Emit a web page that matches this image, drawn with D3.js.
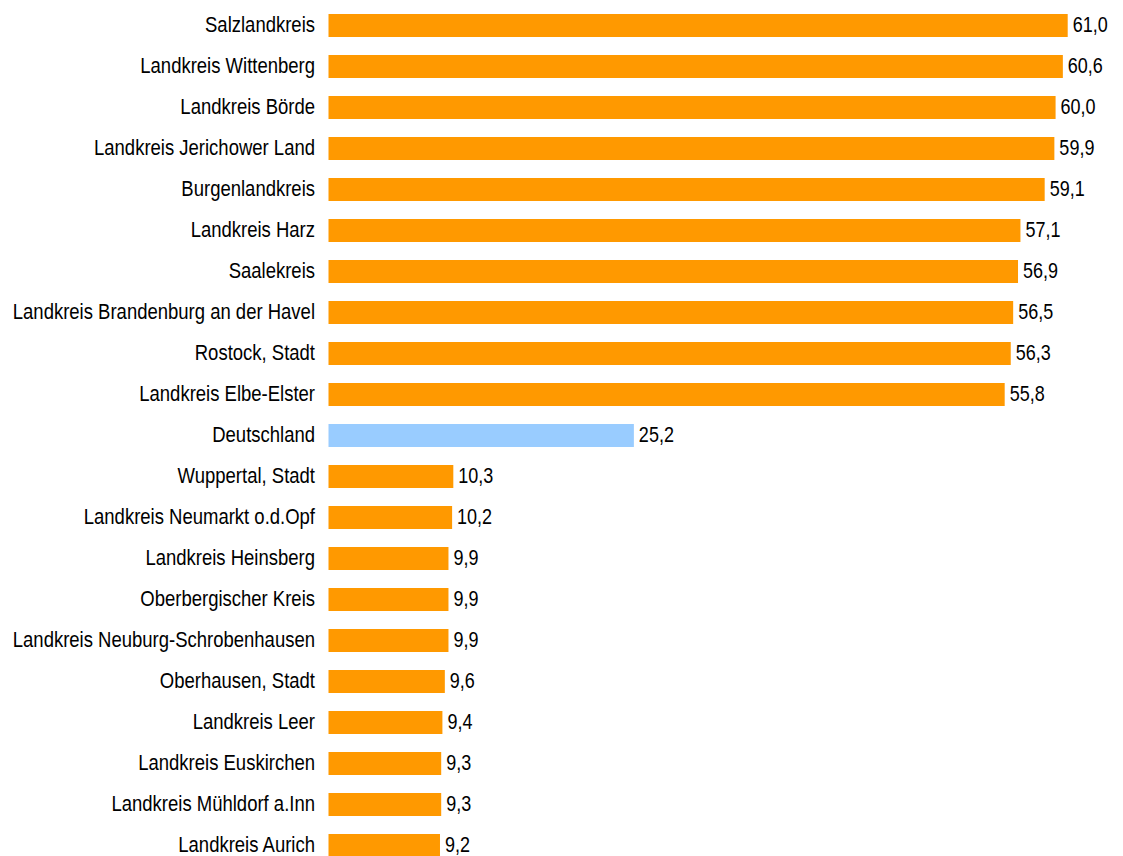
<!DOCTYPE html>
<html><head><meta charset="utf-8">
<script src="https://cdn.jsdelivr.net/npm/d3@7"></script>
<style>body{margin:0;background:#fff;} svg{display:block;}</style>
</head><body>
<script>
const categories = ["Salzlandkreis","Landkreis Wittenberg","Landkreis Börde","Landkreis Jerichower Land","Burgenlandkreis","Landkreis Harz","Saalekreis","Landkreis Brandenburg an der Havel","Rostock, Stadt","Landkreis Elbe-Elster","Deutschland","Wuppertal, Stadt","Landkreis Neumarkt o.d.Opf","Landkreis Heinsberg","Oberbergischer Kreis","Landkreis Neuburg-Schrobenhausen","Oberhausen, Stadt","Landkreis Leer","Landkreis Euskirchen","Landkreis Mühldorf a.Inn","Landkreis Aurich"];
const values = [61.0,60.6,60.0,59.9,59.1,57.1,56.9,56.5,56.3,55.8,25.2,10.3,10.2,9.9,9.9,9.9,9.6,9.4,9.3,9.3,9.2];
const highlight = ["Deutschland"];

const W = 1123, H = 856;
const svg = d3.select("body").append("svg").attr("width", W).attr("height", H);
const x = d3.scaleLinear().domain([0, 61]).range([328.5, 1067.7]);
const y = d3.scaleBand().domain(categories).range([14, 14 + 41 * categories.length]).paddingInner(0);
const bh = y.bandwidth() * 23 / 41;
const data = categories.map((c, i) => ({c, v: values[i]}));
const fmt = v => d3.format(".1f")(v).replace(".", ",");
const k = 1.2;            // vertical stretch of glyphs seen in the reference
const base = bh * 17.7 / 23;  // baseline offset within a bar

svg.selectAll("rect.bar").data(data).enter().append("rect")
  .attr("x", x(0)).attr("y", d => y(d.c))
  .attr("width", d => x(d.v) - x(0)).attr("height", bh)
  .attr("fill", d => highlight.includes(d.c) ? "#99CCFF" : "#FF9900");

svg.selectAll("text.cat").data(data).enter().append("text")
  .attr("transform", d => `translate(315,${y(d.c) + base}) scale(1,${k})`)
  .attr("text-anchor", "end")
  .style("font-family", "Liberation Sans, Arial, sans-serif").style("font-size", "18.5px").attr("fill", "#000")
  .text(d => d.c);

svg.selectAll("text.val").data(data).enter().append("text")
  .attr("transform", d => `translate(${x(d.v) + 5},${y(d.c) + base}) scale(1,${k})`)
  .style("font-family", "Liberation Sans, Arial, sans-serif").style("font-size", "18px").attr("fill", "#000")
  .text(d => fmt(d.v));
</script>
</body></html>
